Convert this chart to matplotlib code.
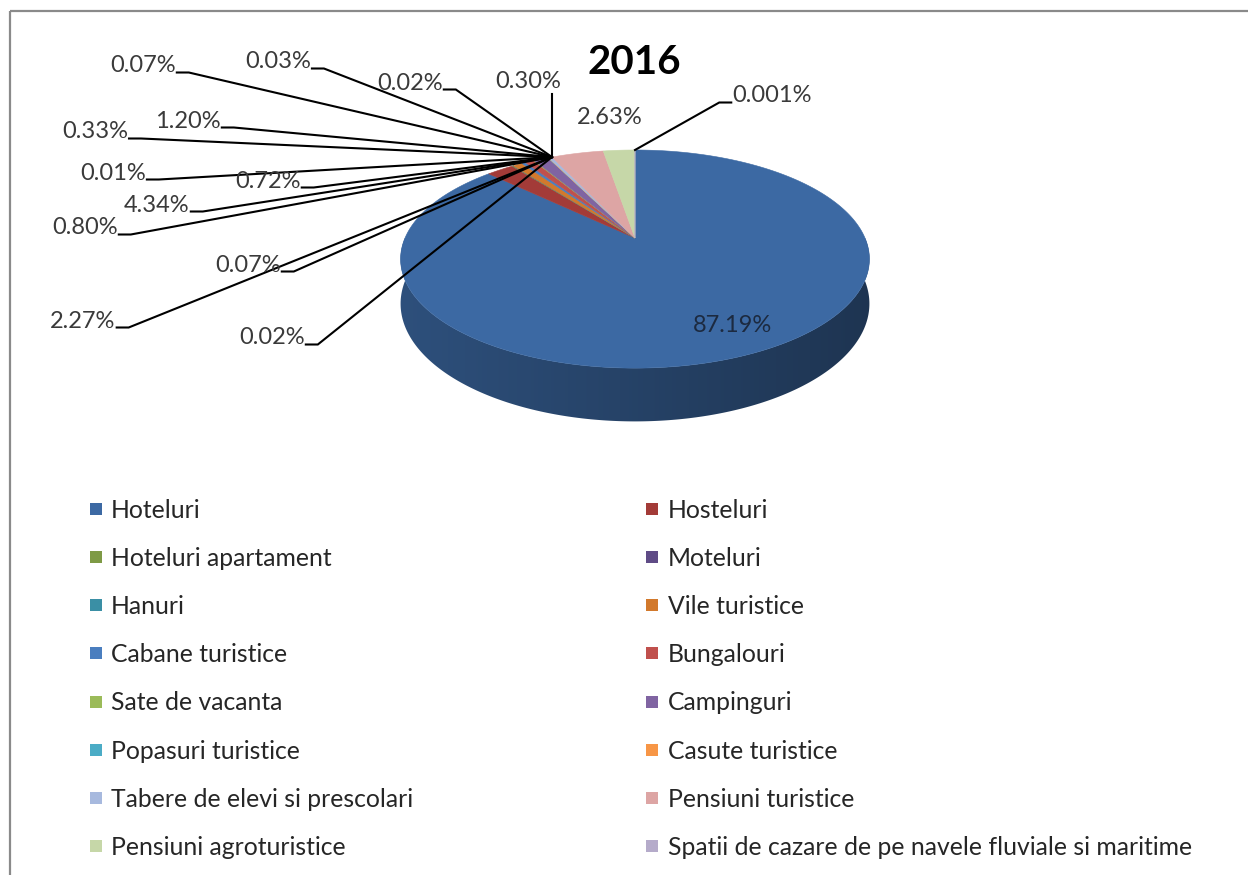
import numpy as np
import matplotlib.pyplot as plt
from matplotlib.lines import Line2D
from matplotlib.patches import Rectangle, Polygon

plt.rcParams['font.family'] = ['Lato', 'DejaVu Sans']

# data (share of total, %), slices go clockwise from 12 o'clock
categories = ["Hoteluri", "Hosteluri", "Hoteluri apartament", "Moteluri", "Hanuri",
              "Vile turistice", "Cabane turistice", "Bungalouri", "Sate de vacanta",
              "Campinguri", "Popasuri turistice", "Casute turistice",
              "Tabere de elevi si prescolari", "Pensiuni turistice",
              "Pensiuni agroturistice",
              "Spatii de cazare de pe navele fluviale si maritime"]
shares = [87.19, 2.27, 0.07, 0.02, 0.01, 0.80, 0.33, 0.72, 0.07, 1.20,
          0.02, 0.03, 0.30, 4.34, 2.63, 0.001]
title = "2016"

colors = ['#3c69a3', '#a33b38', '#7e9a45', '#5f4b86', '#3a8fa5', '#d2792c',
          '#4a7ebf', '#c0504d', '#9bbb59', '#8064a2', '#4bacc6', '#f79646',
          '#a7b9de', '#dda5a4', '#c6d7a8', '#b5abca']

# label layout in pixels: (x centre, y centre, where the leader line leaves)
label_pos = [(733, 325, None), (83, 321, 'right'), (248, 265, 'right'),
             (272, 338, 'right'), (113, 173, 'right'), (85, 228, 'right'),
             (95, 132, 'right'), (268, 181, 'right'), (143, 66, 'right'),
             (188, 121, 'right'), (410, 83, 'right'), (278, 62, 'right'),
             (528, 82, 'below'), (157, 205, 'right'), (610, 117, None),
             (772, 96, 'left')]

W, H = 1248, 875
CX, CY = 635, 238      # apex of the pie
RX, RY = 230, 105      # radii of the top face
P = 0.193              # perspective strength
DEPTH = 43             # thickness of the pie


def proj(theta, r=1.0, h=0.0):
    u = r * np.sin(theta)
    v = -r * np.cos(theta)
    d = 1 - P * v
    return CX + RX * u / d, CY + (RY * v + h) / d


def rgb(c):
    return np.array([int(c[i:i + 2], 16) for i in (1, 3, 5)]) / 255


fig = plt.figure(figsize=(W / 100, H / 100), dpi=100)
ax = fig.add_axes([0, 0, 1, 1])
ax.axis('off')

ax.add_patch(Rectangle((10, 11), 1400, 1000, fill=False, edgecolor='#8a8a8a',
                       lw=1.6, clip_on=False))

frac = np.array(shares) / sum(shares)
ends = np.cumsum(frac) * 2 * np.pi
starts = ends - frac * 2 * np.pi

# side wall (front half only), shaded darker to the right
xl, xr = CX - RX * 1.03, CX + RX * 1.03
ramp = np.linspace(0.76, 0.50, 200)
for a0, a1, c in zip(starts, ends, colors):
    lo, hi = max(a0, np.pi / 2), min(a1, 3 * np.pi / 2)
    if hi <= lo:
        continue
    t = np.linspace(lo, hi, 300)
    tx, ty = proj(t)
    bx, by = proj(t[::-1], h=DEPTH)
    poly = Polygon(np.c_[np.r_[tx, bx], np.r_[ty, by]], closed=True,
                   facecolor='none', edgecolor='none')
    ax.add_patch(poly)
    img = (rgb(c)[None, None, :] * ramp[None, :, None]).repeat(2, axis=0)
    im = ax.imshow(img, extent=(xl, xr, CY + 250, CY - 20), aspect='auto',
                   interpolation='bilinear')
    im.set_clip_path(poly)

# top face
for a0, a1, c in zip(starts, ends, colors):
    t = np.linspace(a0, a1, max(2, int((a1 - a0) / 0.005)))
    xs, ys = proj(t)
    ax.fill(np.r_[CX, xs], np.r_[CY, ys], color=c, lw=0.4)

ax.set_xlim(0, W)
ax.set_ylim(H, 0)

ax.text(634, 62, title, ha='center', va='center', fontsize=29,
        fontweight='bold', color='black')

# percentage labels
texts = []
for i, v in enumerate(shares):
    s = f"{v:.2f}%" if v >= 0.01 else f"{v:.3f}%"
    x, y, side = label_pos[i]
    col = '#1c2a40' if i == 0 else '#3a3a3a'
    texts.append(ax.text(x, y, s, ha='center', va='center', fontsize=17,
                         color=col))

fig.canvas.draw()
inv = ax.transData.inverted()
hub = proj(starts[categories.index("Pensiuni turistice")])
for i, tx in enumerate(texts):
    side = label_pos[i][2]
    if side is None:
        continue
    bb = tx.get_window_extent()
    (l, b), (r, t) = inv.transform([(bb.x0, bb.y0), (bb.x1, bb.y1)])
    base = b - 4
    if side == 'right':
        xs = [r + 1, r + 13, hub[0]]
        ys = [base, base, hub[1]]
    elif side == 'below':
        xs = [hub[0], hub[0]]
        ys = [b + 2, hub[1]]
    else:
        target = proj((starts[i] + ends[i]) / 2)
        xs = [l - 1, l - 13, target[0]]
        ys = [base, base, target[1]]
    ax.plot(xs, ys, color='black', lw=1.5, solid_joinstyle='miter')

# legend, two columns filled row by row
handles = [Line2D([], [], ls='', marker='s', markersize=8.6, color=c,
                  markeredgewidth=0) for c in colors]
kw = dict(loc='upper left', frameon=False, fontsize=17.8, borderpad=0,
          borderaxespad=0, handlelength=0.45, handletextpad=0.4,
          labelspacing=1.02, bbox_transform=ax.transData, labelcolor='#262626')
leg1 = ax.legend(handles[0::2], categories[0::2], bbox_to_anchor=(90, 498.5), **kw)
ax.add_artist(leg1)
ax.legend(handles[1::2], categories[1::2], bbox_to_anchor=(646.5, 498.5), **kw)

fig.savefig('out.png', dpi=100)
